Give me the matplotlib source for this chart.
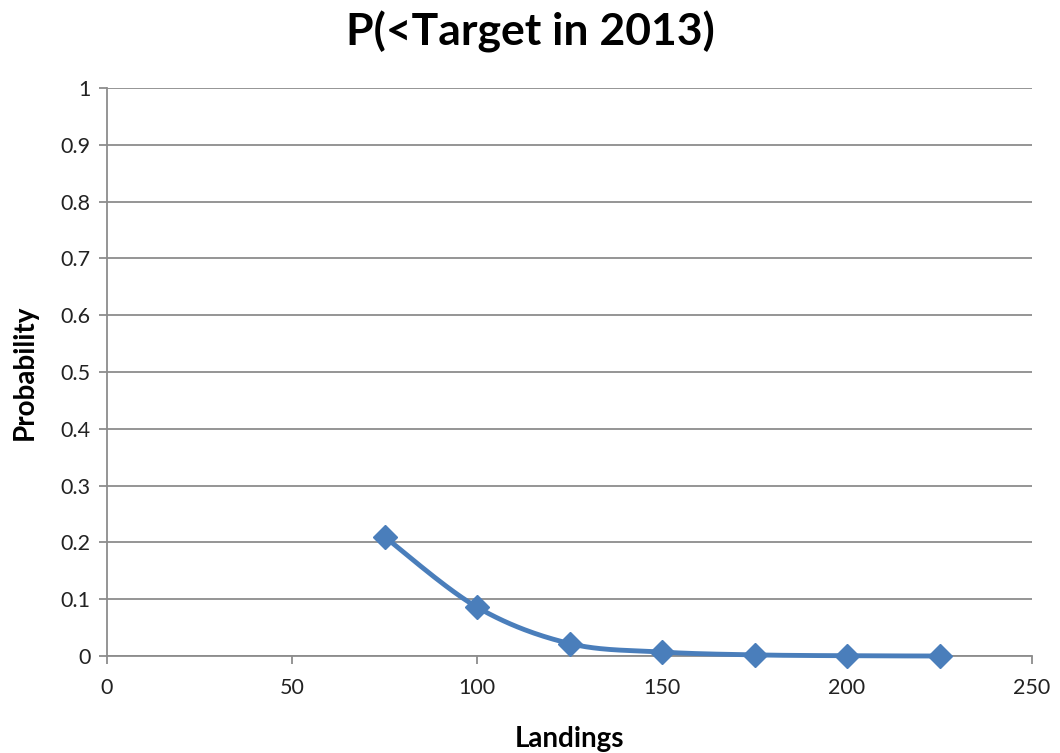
import numpy as np
import matplotlib
matplotlib.use("Agg")
import matplotlib.pyplot as plt

landings = [75, 100, 125, 150, 175, 200, 225]
probability = [0.21, 0.086, 0.022, 0.007, 0.002, 0.0005, 0.0]
x_ticks = [0, 50, 100, 150, 200, 250]
y_ticks = [0, 0.1, 0.2, 0.3, 0.4, 0.5, 0.6, 0.7, 0.8, 0.9, 1]
y_ticklabels = ["0", "0.1", "0.2", "0.3", "0.4", "0.5", "0.6", "0.7", "0.8", "0.9", "1"]

plt.rcParams['font.family'] = ['Lato', 'DejaVu Sans']

def smooth(xs, ys, n=40):
    xs = np.asarray(xs, float); ys = np.asarray(ys, float)
    px = np.concatenate([[xs[0]], xs, [xs[-1]]])
    py = np.concatenate([[ys[0]], ys, [ys[-1]]])
    ox, oy = [], []
    t = np.linspace(0, 1, n)
    for i in range(1, len(px) - 2):
        p0 = np.array([px[i], py[i]]); p3 = np.array([px[i+1], py[i+1]])
        c1 = p0 + (np.array([px[i+1], py[i+1]]) - np.array([px[i-1], py[i-1]])) / 6
        c2 = p3 - (np.array([px[i+2], py[i+2]]) - np.array([px[i], py[i]])) / 6
        b = ((1-t)**3)[:, None]*p0 + (3*(1-t)**2*t)[:, None]*c1 + (3*(1-t)*t**2)[:, None]*c2 + (t**3)[:, None]*p3
        ox.extend(b[:, 0]); oy.extend(b[:, 1])
    return np.array(ox), np.array(oy)

fig = plt.figure(figsize=(10.6, 7.53), dpi=100)
ax = fig.add_axes([0.101, 0.1288, 0.8726, 0.7543])

color = '#4a7ebb'
sx, sy = smooth(landings, probability)
ax.plot(sx, sy, color=color, lw=3.5, solid_capstyle='round', zorder=3, clip_on=False)
ax.plot(landings, probability, linestyle='none', marker='D', ms=12.5, color=color, zorder=4, clip_on=False)

ax.set_xlim(0, 250)
ax.set_ylim(0, 1)
ax.set_xticks(x_ticks)
ax.set_xticklabels([str(v) for v in x_ticks])
ax.set_yticks(y_ticks)
ax.set_yticklabels(y_ticklabels)
ax.grid(axis='y', color='#8c8c8c', lw=1.3)
ax.set_axisbelow(True)
for s in ['top', 'right']:
    ax.spines[s].set_visible(False)
for s in ['left', 'bottom']:
    ax.spines[s].set_color('#8c8c8c')
    ax.spines[s].set_linewidth(1.3)
ax.tick_params(axis='both', direction='out', length=6, width=1.3, color='#8c8c8c',
               labelsize=15.5, labelcolor='#222222', pad=6)
ax.tick_params(axis='x', pad=10)

ax.set_xlabel('Landings', fontsize=20, fontweight='bold', labelpad=20)
ax.set_ylabel('Probability', fontsize=20, fontweight='bold', labelpad=16)
fig.suptitle('P(<Target in 2013)', fontsize=32, fontweight='bold', y=0.985)

fig.savefig('out.png', dpi=100, facecolor='white')
